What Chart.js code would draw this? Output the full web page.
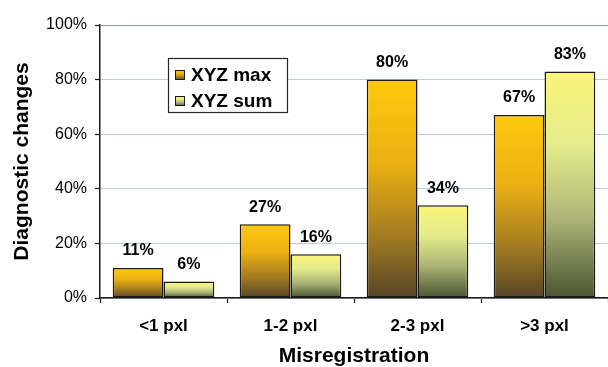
<!DOCTYPE html>
<html>
<head>
<meta charset="utf-8">
<script src="https://cdn.jsdelivr.net/npm/chart.js@4/dist/chart.umd.min.js"></script>
<style>
  html, body { margin: 0; padding: 0; background: #ffffff; overflow: hidden; }
  #wrap { width: 608px; height: 367px; }
</style>
</head>
<body>
<div id="wrap"><canvas id="c" width="608" height="367"></canvas></div>
<script>
// Share of diagnostic changes by misregistration class
const categories = ['<1 pxl', '1-2 pxl', '2-3 pxl', '>3 pxl'];
const seriesNames = ['XYZ max', 'XYZ sum'];
const xyzMax = [11, 27, 80, 67];
const xyzSum = [6, 16, 34, 83];
const yTicks = [0, 20, 40, 60, 80, 100];

const FONT = "'Liberation Sans', Arial, Helvetica, sans-serif";
const INK = '#1e1a16';

// Vertical gradients (top -> bottom) for each series
const palettes = [
  [[0, '#FFC90D'], [0.38, '#EBB012'], [0.72, '#A27B22'], [1, '#554426']],
  [[0, '#FAF57A'], [0.32, '#E6EC8C'], [0.64, '#AFB778'], [1, '#4A5430']]
];

function makeGradient(c2d, top, bottom, stops) {
  const g = c2d.createLinearGradient(0, top, 0, bottom);
  stops.forEach(([o, col]) => g.addColorStop(o, col));
  return g;
}

function barFill(context) {
  const chart = context.chart;
  const stops = palettes[context.datasetIndex];
  if (!chart.chartArea) return stops[0][1];
  const y = chart.scales.y;
  const top = y.getPixelForValue(context.raw);
  const bottom = y.getPixelForValue(0);
  return makeGradient(chart.ctx, top, bottom, stops);
}

const barStyle = {
  backgroundColor: barFill,
  borderColor: INK,
  borderWidth: 1.5,
  borderSkipped: false,
  categoryPercentage: 0.8,
  barPercentage: 1.0
};

// Percentage labels above each bar
const valueLabels = {
  id: 'valueLabels',
  afterDatasetsDraw(chart) {
    const c = chart.ctx;
    c.save();
    c.font = 'bold 16px ' + FONT;
    c.fillStyle = '#000';
    c.textAlign = 'center';
    c.textBaseline = 'bottom';
    chart.data.datasets.forEach((ds, di) => {
      chart.getDatasetMeta(di).data.forEach((el, i) => {
        c.fillText(ds.data[i] + '%', el.x, el.y - 9);
      });
    });
    c.restore();
  }
};

// Boxed legend inside the plot area
const boxLegend = {
  id: 'boxLegend',
  afterDraw(chart) {
    const c = chart.ctx;
    const x = 168, y = 58, w = 119, h = 54;
    c.save();
    c.fillStyle = '#fff';
    c.fillRect(x, y, w, h);
    c.strokeStyle = '#2a2420';
    c.lineWidth = 1.2;
    c.strokeRect(x + 0.5, y + 0.5, w, h);
    c.font = 'bold 19px ' + FONT;
    c.textBaseline = 'middle';
    c.textAlign = 'left';
    chart.data.datasets.forEach((ds, di) => {
      const cy = y + 17 + di * 26;
      const sx = x + 7, sy = cy - 5, s = 10;
      c.fillStyle = makeGradient(c, sy, sy + s, palettes[di]);
      c.fillRect(sx, sy, s, s);
      c.strokeStyle = INK;
      c.lineWidth = 1;
      c.strokeRect(sx + 0.5, sy + 0.5, s - 1, s - 1);
      c.fillStyle = '#000';
      c.fillText(ds.label, sx + s + 6, cy + 1);
    });
    c.restore();
  }
};

new Chart(document.getElementById('c'), {
  type: 'bar',
  data: {
    labels: categories,
    datasets: [
      Object.assign({ label: seriesNames[0], data: xyzMax }, barStyle),
      Object.assign({ label: seriesNames[1], data: xyzSum }, barStyle)
    ]
  },
  options: {
    responsive: false,
    animation: false,
    devicePixelRatio: 1,
    layout: { padding: { top: 25, right: 0, left: 0, bottom: 0 } },
    plugins: {
      legend: { display: false },
      tooltip: { enabled: false }
    },
    scales: {
      x: {
        afterFit(scale) { scale.height = 69; },
        grid: { offset: true, drawOnChartArea: false, drawTicks: true, tickLength: 5, tickColor: INK, tickWidth: 1.2 },
        border: { color: INK, width: 1.5 },
        ticks: { color: '#000', font: { family: FONT, size: 17, weight: 'bold' }, padding: 13 },
        title: {
          display: true, text: 'Misregistration', color: '#000',
          font: { family: FONT, size: 21, weight: 'bold' },
          padding: { top: 0, bottom: -2 }
        }
      },
      y: {
        min: 0, max: 100,
        afterFit(scale) { scale.width = 100; },
        afterBuildTicks(scale) { scale.ticks = yTicks.map(v => ({ value: v })); },
        grid: {
          color: (ctx) => (ctx.tick && ctx.tick.value === 100) ? '#8a9ba6' : '#b7cbd9',
          lineWidth: 1,
          drawTicks: true, tickLength: 5, tickColor: INK, tickWidth: 1.2
        },
        border: { color: INK, width: 1.5 },
        ticks: {
          color: '#000', padding: 8,
          font: { family: FONT, size: 16 },
          callback: (v) => v + '%'
        },
        title: {
          display: true, text: 'Diagnostic changes', color: '#000',
          font: { family: FONT, size: 21, weight: 'bold' },
          padding: { top: 10, bottom: 0 }
        }
      }
    }
  },
  plugins: [valueLabels, boxLegend]
});
</script>
</body>
</html>
